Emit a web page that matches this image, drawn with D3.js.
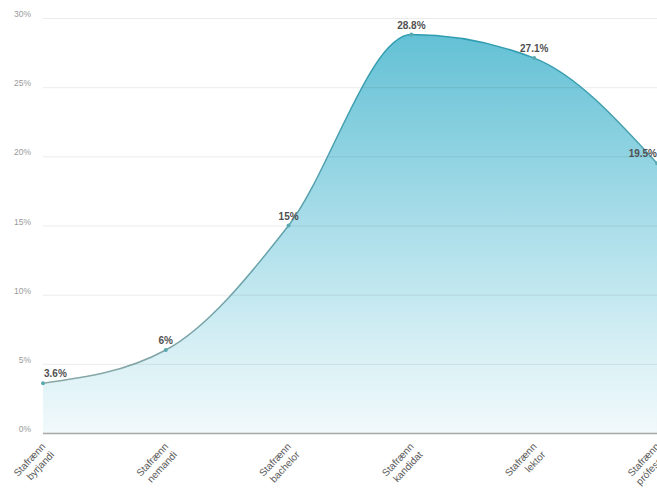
<!DOCTYPE html>
<html>
<head>
<meta charset="utf-8">
<script src="https://cdn.jsdelivr.net/npm/d3@7"></script>
<style>
  body { margin: 0; background: #fff; }
  svg { display: block; font-family: "Liberation Sans", Arial, sans-serif; }
</style>
</head>
<body>
<div id="chart"></div>
<script>
// data
const levels = ["Stafrænn byrjandi", "Stafrænn nemandi", "Stafrænn bachelor",
                "Stafrænn kandidat", "Stafrænn lektor", "Stafrænn prófessor"];
const shares = [3.6, 6, 15, 28.8, 27.1, 19.5];
const shareLabels = ["3.6%", "6%", "15%", "28.8%", "27.1%", "19.5%"];
const yTicks = [0, 5, 10, 15, 20, 25, 30];

/* sizes */
const width = 657, height = 488;
const margin = {top: 18, right: 0, bottom: 55, left: 43};

const svg = d3.select("#chart").append("svg")
  .attr("width", width)
  .attr("height", height);

/* scales */
const x = d3.scalePoint()
  .domain(levels)
  .range([margin.left, width - margin.right]);
const y = d3.scaleLinear()
  .domain([0, 30])
  .range([height - margin.bottom, margin.top]);

/* gradients */
const defs = svg.append("defs");
const fillGrad = defs.append("linearGradient")
  .attr("id", "fillGrad")
  .attr("gradientUnits", "userSpaceOnUse")
  .attr("x1", 0).attr("x2", 0)
  .attr("y1", y(29)).attr("y2", y(0));
fillGrad.append("stop").attr("offset", "0%").attr("stop-color", "#62c0d4");
fillGrad.append("stop").attr("offset", "47%").attr("stop-color", "#a8dde9");
fillGrad.append("stop").attr("offset", "80%").attr("stop-color", "#d8f0f5");
fillGrad.append("stop").attr("offset", "100%").attr("stop-color", "#f1f9fb");

const lineGrad = defs.append("linearGradient")
  .attr("id", "lineGrad")
  .attr("gradientUnits", "userSpaceOnUse")
  .attr("x1", 0).attr("x2", 0)
  .attr("y1", y(29)).attr("y2", y(3));
lineGrad.append("stop").attr("offset", "0%").attr("stop-color", "#2e9db1");
lineGrad.append("stop").attr("offset", "100%").attr("stop-color", "#8aa6a6");

/* area + line */
const pts = levels.map((c, i) => ({c: c, v: shares[i], label: shareLabels[i]}));

const area = d3.area()
  .x(d => x(d.c))
  .y0(y(0))
  .y1(d => y(d.v))
  .curve(d3.curveMonotoneX);
const line = d3.line()
  .x(d => x(d.c))
  .y(d => y(d.v))
  .curve(d3.curveMonotoneX);

svg.append("path")
  .datum(pts)
  .attr("d", area)
  .attr("fill", "url(#fillGrad)");

/* grid + y labels (over the fill) */
svg.append("g")
  .selectAll("line")
  .data(yTicks)
  .enter().append("line")
  .attr("x1", margin.left)
  .attr("x2", width)
  .attr("y1", d => y(d) + 0.5)
  .attr("y2", d => y(d) + 0.5)
  .attr("stroke", d => d === 0 ? "#a8a8a8" : "#000")
  .attr("stroke-opacity", d => d === 0 ? 1 : 0.08)
  .attr("stroke-width", d => d === 0 ? 1.3 : 1);

svg.append("g")
  .selectAll("text")
  .data(yTicks)
  .enter().append("text")
  .attr("x", 31)
  .attr("y", d => y(d) - 1)
  .attr("text-anchor", "end")
  .attr("font-size", 8.5)
  .attr("fill", "#9a9a9a")
  .text(d => d + "%");

svg.append("path")
  .datum(pts)
  .attr("d", line)
  .attr("fill", "none")
  .attr("stroke", "url(#lineGrad)")
  .attr("stroke-width", 1.5);

svg.append("g")
  .selectAll("circle")
  .data(pts)
  .enter().append("circle")
  .attr("cx", d => x(d.c))
  .attr("cy", d => y(d.v))
  .attr("r", 2)
  .attr("fill", "#5aa9b0");

/* value labels (kept inside the plot) */
svg.append("g")
  .selectAll("text")
  .data(pts)
  .enter().append("text")
  .attr("x", (d, i) => i === 0 ? x(d.c) + 1 : (i === pts.length - 1 ? width : x(d.c)))
  .attr("y", d => y(d.v) - 6)
  .attr("text-anchor", (d, i) => i === 0 ? "start" : (i === pts.length - 1 ? "end" : "middle"))
  .attr("font-size", 10)
  .attr("font-weight", "bold")
  .attr("fill", "#505050")
  .text(d => d.label);

/* x labels, rotated, two lines */
const xl = svg.append("g")
  .selectAll("text")
  .data(levels)
  .enter().append("text")
  .attr("transform", d => "translate(" + (x(d) + 3) + "," + (y(0) + 14) + ") rotate(-47)")
  .attr("text-anchor", "end")
  .attr("font-size", 10)
  .attr("fill", "#5a5a5a");
xl.selectAll("tspan")
  .data(d => d.split(" "))
  .enter().append("tspan")
  .attr("x", 0)
  .attr("dy", (d, i) => i === 0 ? 0 : 12)
  .text(d => d);
</script>
</body>
</html>
